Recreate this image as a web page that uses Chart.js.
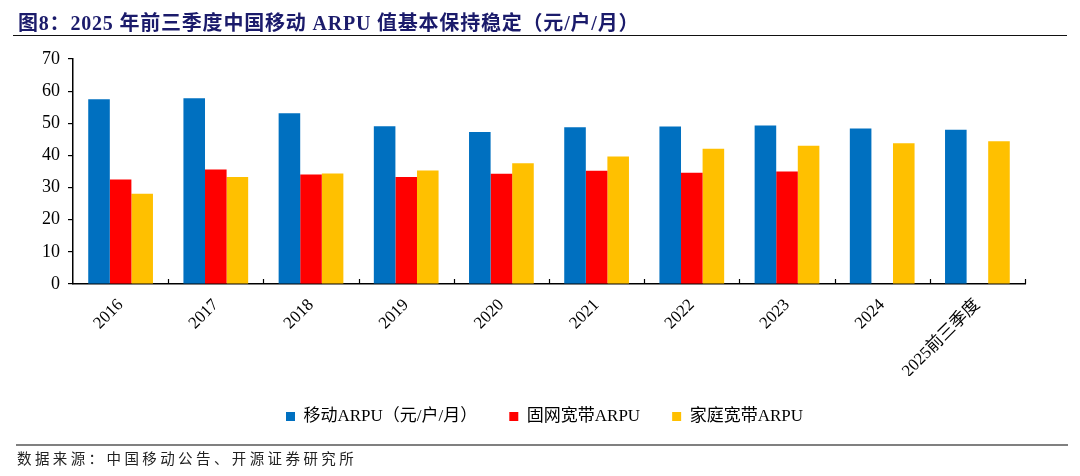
<!DOCTYPE html>
<html>
<head>
<meta charset="utf-8">
<script src="https://cdn.jsdelivr.net/npm/chart.js@4.4.1/dist/chart.umd.min.js"></script>
<style>
  html, body { margin: 0; padding: 0; background: #fff; }
  #wrap { position: relative; width: 1080px; height: 476px; overflow: hidden; }
  #title { position: absolute; left: 18px; top: 7px; font-family: "Liberation Serif", "Noto Sans CJK SC", serif; font-weight: bold; font-size: 20px; letter-spacing: 0.8px; color: #1b1b6b; white-space: nowrap; }
  #tline { position: absolute; left: 13px; top: 35px; width: 1054px; height: 0; border-top: 1.5px solid #111; }
  #sline { position: absolute; left: 16px; top: 444px; width: 1052px; height: 0; border-top: 2px solid #808080; }
  #source { position: absolute; left: 17px; top: 447px; font-family: "Noto Sans CJK SC", sans-serif; font-size: 14.5px; color: #222; letter-spacing: 3.4px; white-space: nowrap; }
  #cv { position: absolute; left: 0; top: 0; }
</style>
</head>
<body>
<div id="wrap">
  <canvas id="cv" width="1080" height="476"></canvas>
  <div id="title">图8：2025 年前三季度中国移动 ARPU 值基本保持稳定（元/户/月）</div>
  <div id="tline"></div>
  <div id="sline"></div>
  <div id="source">数据来源：中国移动公告、开源证券研究所</div>
</div>
<script>
const categories = ["2016", "2017", "2018", "2019", "2020", "2021", "2022", "2023", "2024", "2025前三季度"];
const mobileARPU = [57.5, 57.8, 53.1, 49.1, 47.3, 48.8, 49.0, 49.3, 48.4, 48.0];
const fixedBroadbandARPU = [32.5, 35.6, 34.1, 33.3, 34.3, 35.2, 34.6, 35.0, null, null];
const homeBroadbandARPU = [28.1, 33.3, 34.4, 35.3, 37.6, 39.7, 42.1, 43.0, 43.8, 44.4];
const seriesNames = ["移动ARPU（元/户/月）", "固网宽带ARPU", "家庭宽带ARPU"];
const yTicks = [0, 10, 20, 30, 40, 50, 60, 70];

const serifFont = '"Liberation Serif", "Noto Sans CJK SC", serif';

const innerTicks = {
  id: 'innerTicks',
  afterDraw(chart) {
    const x = chart.scales.x, ctx = chart.ctx;
    const bottom = chart.chartArea.bottom;
    ctx.save();
    ctx.strokeStyle = '#000';
    ctx.lineWidth = 1.2;
    const n = categories.length;
    for (let i = 1; i <= n; i++) {
      const px = (x.getPixelForValue(i - 1) + (i < n ? x.getPixelForValue(i) : 2 * x.getPixelForValue(i - 1) - x.getPixelForValue(i - 2))) / 2;
      ctx.beginPath();
      ctx.moveTo(Math.round(px) + 0.5, bottom);
      ctx.lineTo(Math.round(px) + 0.5, bottom - 5);
      ctx.stroke();
    }
    ctx.restore();
  }
};

const shiftLegend = {
  id: 'shiftLegend',
  afterLayout(chart) {
    if (chart.legend) { chart.legend.left += 32; chart.legend.right += 32; }
  }
};

new Chart(document.getElementById('cv'), {
  type: 'bar',
  data: {
    labels: categories,
    datasets: [
      { label: seriesNames[0], data: mobileARPU, backgroundColor: '#0070C0' },
      { label: seriesNames[1], data: fixedBroadbandARPU, backgroundColor: '#FF0000' },
      { label: seriesNames[2], data: homeBroadbandARPU, backgroundColor: '#FFC000' }
    ]
  },
  options: {
    responsive: false,
    animation: false,
    layout: { padding: { left: 0, right: 55, top: 59, bottom: 41 } },
    datasets: { bar: { categoryPercentage: 0.68, barPercentage: 1.0 } },
    scales: {
      x: {
        grid: { display: false },
        border: { display: true, color: '#000', width: 1.5 },
        ticks: {
          color: '#000', font: { family: serifFont, size: 17 },
          maxRotation: 45, minRotation: 45, autoSkip: false, padding: 3
        },
        afterFit(scale) { scale.height = 92; }
      },
      y: {
        min: 0, max: 70,
        afterBuildTicks(scale) { scale.ticks = yTicks.map(v => ({ value: v })); },
        grid: { drawOnChartArea: false, drawTicks: true, tickLength: 5, color: '#000', lineWidth: 1.2 },
        border: { display: true, color: '#000', width: 1.5 },
        ticks: { color: '#000', font: { family: serifFont, size: 18 }, padding: 8 },
        afterFit(scale) { scale.width = 73; }
      }
    },
    plugins: {
      legend: {
        position: 'bottom',
        labels: {
          color: '#000', font: { family: serifFont, size: 17 },
          boxWidth: 9, boxHeight: 9, padding: 32
        }
      },
      tooltip: { enabled: false },
      title: { display: false }
    }
  },
  plugins: [innerTicks, shiftLegend]
});
</script>
</body>
</html>
